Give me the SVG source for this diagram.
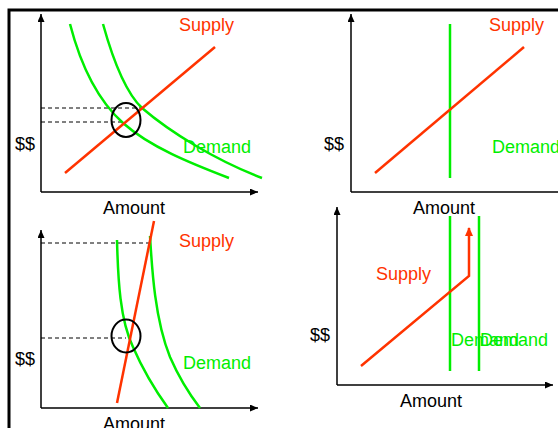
<svg xmlns="http://www.w3.org/2000/svg" width="558" height="428" viewBox="0 0 558 428">
<style>
text{font-family:"Liberation Sans",Arial,sans-serif;font-size:18px}
.s{fill:#ff3300}.d{fill:#00ee00}.k{fill:#000}
.ax{stroke:#000;stroke-width:1.5;fill:none}
.sup{stroke:#ff3300;stroke-width:2.5;fill:none}
.dem{stroke:#00ee00;stroke-width:2.5;fill:none}
.dash{stroke:#000;stroke-width:1;stroke-dasharray:4 3;fill:none}
.ell{stroke:#000;stroke-width:2;fill:none}
</style>
<defs>
<marker id="ah" markerUnits="userSpaceOnUse" markerWidth="10" markerHeight="10" refX="8" refY="3.5" orient="auto"><path d="M0,0 L8,3.5 L0,7 Z" fill="#000"/></marker>
<marker id="rh" markerUnits="userSpaceOnUse" markerWidth="10" markerHeight="10" refX="8" refY="4" orient="auto"><path d="M0,0 L9,4 L0,8 Z" fill="#ff3300"/></marker>
</defs>
<rect width="558" height="428" fill="#fff"/>
<path d="M9,432 V10 H562" fill="none" stroke="#000" stroke-width="3"/>

<g id="axes">
<path class="ax" d="M41,192 V14" marker-end="url(#ah)"/>
<path class="ax" d="M41,192 H258" marker-end="url(#ah)"/>
<path class="ax" d="M351,192 V14" marker-end="url(#ah)"/>
<path class="ax" d="M351,192 H570"/>
<path class="ax" d="M41,408 V230" marker-end="url(#ah)"/>
<path class="ax" d="M41,408 H258" marker-end="url(#ah)"/>
<path class="ax" d="M337,385 V207" marker-end="url(#ah)"/>
<path class="ax" d="M337,385 H553" marker-end="url(#ah)"/>
</g>

<g id="panel1">
<path class="dash" d="M41,108 H142"/>
<path class="dash" d="M41,122 H123"/>
<path class="dem" d="M70,24 C78,55 92,95 123,123 C150,147 190,163 229,178"/>
<path class="dem" d="M103,24 C113,60 125,92 142,108 C170,132 215,160 262,178"/>
<path class="sup" d="M65,173 L215,47"/>
<ellipse class="ell" cx="126" cy="120" rx="14.5" ry="17"/>
<text class="s" x="179" y="31">Supply</text>
<text class="d" x="183" y="153">Demand</text>
<text class="k" x="15" y="150">$$</text>
<text class="k" x="103" y="214">Amount</text>
</g>

<g id="panel2">
<path class="dem" d="M450,24 V178"/>
<path class="sup" d="M375,173 L524,47"/>
<text class="s" x="489" y="31">Supply</text>
<text class="d" x="492" y="153">Demand</text>
<text class="k" x="324" y="150">$$</text>
<text class="k" x="413" y="214">Amount</text>
</g>

<g id="panel3">
<path class="dash" d="M41,243 H150"/>
<path class="dash" d="M41,338 H126"/>
<path class="dem" d="M117,240 C118,280 120,320 133,347 C143,370 155,390 168,408"/>
<path class="dem" d="M150,236 C152,270 155,320 170,357 C180,380 190,395 200,408"/>
<path class="sup" d="M117,403 L154,221"/>
<ellipse class="ell" cx="126" cy="336" rx="14.5" ry="16.5"/>
<text class="s" x="179" y="247">Supply</text>
<text class="d" x="183" y="369">Demand</text>
<text class="k" x="15" y="365">$$</text>
<text class="k" x="103" y="430">Amount</text>
</g>

<g id="panel4">
<path class="dem" d="M450,216 V371"/>
<path class="dem" d="M479,216 V371"/>
<path class="sup" d="M361,366 L469,276 V228" marker-end="url(#rh)"/>
<text class="s" x="376" y="280">Supply</text>
<text class="d" x="451" y="346">Demand</text>
<text class="d" x="480" y="346">Demand</text>
<text class="k" x="310" y="341">$$</text>
<text class="k" x="400" y="407">Amount</text>
</g>
</svg>
